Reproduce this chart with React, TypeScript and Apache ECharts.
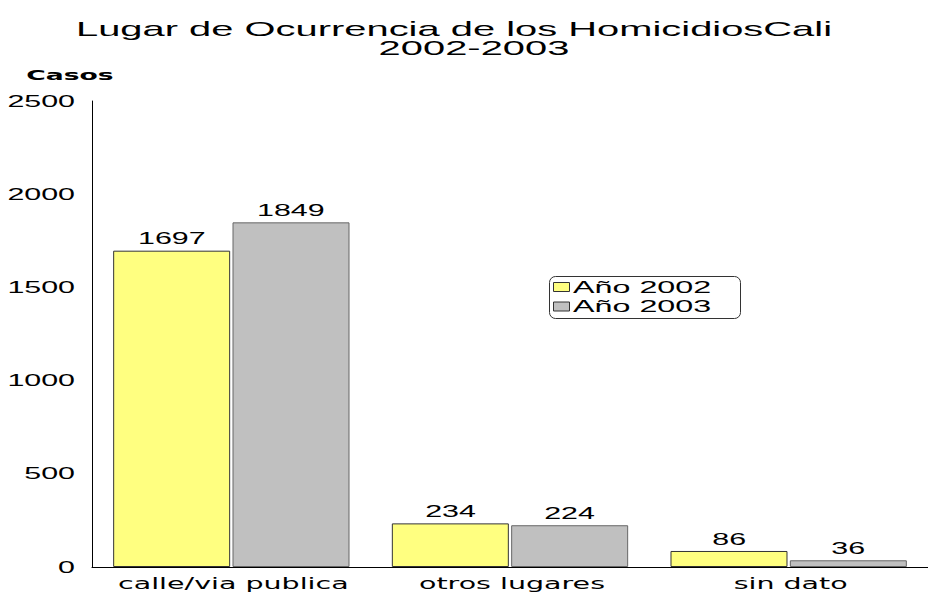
import React, { useEffect, useRef } from "react";
import * as echarts from "echarts";

const titleLines = ["Lugar de Ocurrencia de los HomicidiosCali", "2002-2003"];
const yAxisName = "Casos";
const categories = ["calle/via publica", "otros lugares", "sin dato"];
const seriesNames = ["Año 2002", "Año 2003"];
const year2002 = [1697, 234, 86];
const year2003 = [1849, 224, 36];
const yTicks = [0, 500, 1000, 1500, 2000, 2500];

const COLORS = ["#FFFF80", "#C0C0C0"];
const BORDERS = ["#333333", "#666666"];
const SX = 1.9; // horizontal stretch of all texts, as in the reference

export default function App() {
  const ref = useRef<HTMLDivElement>(null);
  useEffect(() => {
    const chart = echarts.init(ref.current!, null, { renderer: "svg" });
    const seriesData = [year2002, year2003];
    chart.setOption({
      animation: false,
      backgroundColor: "#fff",
      grid: { left: 92, top: 101, bottom: 27, width: 846, containLabel: false },
      xAxis: {
        type: "category",
        data: categories,
        axisLine: { lineStyle: { color: "#000", width: 1 } },
        axisTick: { alignWithLabel: true, length: 6, lineStyle: { color: "#000" } },
        axisLabel: { show: false },
      },
      yAxis: {
        type: "value",
        min: 0,
        max: 2500,
        interval: 500,
        axisLine: { show: true, lineStyle: { color: "#000", width: 1 } },
        axisTick: { show: false },
        splitLine: { show: false },
        axisLabel: { show: false },
      },
      series: seriesNames.map((name, s) => ({
        name,
        type: "bar",
        data: seriesData[s],
        barWidth: 117,
        barGap: "2%",
        itemStyle: { color: COLORS[s], borderColor: BORDERS[s], borderWidth: 1 },
      })),
    });

    const txt = (
      text: string,
      x: number,
      y: number,
      opts: { size: number; family?: string; weight?: string; align?: string }
    ) => ({
      type: "text",
      x,
      y,
      scaleX: SX,
      silent: true,
      style: {
        text,
        fill: "#000",
        fontSize: opts.size,
        fontFamily: opts.family || "Liberation Sans",
        fontWeight: opts.weight || "normal",
        align: opts.align || "center",
        verticalAlign: "middle",
      },
    });

    const graphics: any[] = [];
    // title
    graphics.push(txt(titleLines[0], 454, 29, { size: 21 }));
    graphics.push(txt(titleLines[1], 474, 48, { size: 21 }));
    // y axis name
    graphics.push(txt(yAxisName, 70, 75, { size: 14, family: "DejaVu Sans", weight: "bold" }));
    // y tick labels
    yTicks.forEach((v) => {
      const py = chart.convertToPixel({ yAxisIndex: 0 }, v) as number;
      graphics.push(txt(String(v), 75, py, { size: 16, align: "right" }));
    });
    // category labels
    categories.forEach((c, i) => {
      const px = chart.convertToPixel({ xAxisIndex: 0 }, i) as number;
      graphics.push(txt(c, px + 2, 584, { size: 15, family: "DejaVu Sans" }));
    });
    // value labels
    const off = 117 / 2 + 1;
    seriesData.forEach((arr, s) => {
      arr.forEach((v, i) => {
        const px = (chart.convertToPixel({ xAxisIndex: 0 }, i) as number) + (s === 0 ? -off : off);
        const py = chart.convertToPixel({ yAxisIndex: 0 }, v) as number;
        graphics.push(txt(String(v), px, py - 12, { size: 16 }));
      });
    });
    // legend
    graphics.push({
      type: "rect",
      shape: { x: 549.5, y: 276.5, width: 191, height: 42, r: 6 },
      style: { fill: "#fff", stroke: "#333", lineWidth: 1 },
      silent: true,
    });
    seriesNames.forEach((n, s) => {
      const cy = 287 + s * 19.5;
      graphics.push({
        type: "rect",
        shape: { x: 553.5, y: cy - 4.5, width: 16, height: 9 },
        style: { fill: COLORS[s], stroke: "#333", lineWidth: 1 },
        silent: true,
      });
      graphics.push(txt(n, 573, cy, { size: 17, align: "left" }));
    });

    chart.setOption({ graphic: graphics });
    return () => chart.dispose();
  }, []);
  return <div ref={ref} style={{ width: 928, height: 594, position: "fixed", left: 0, top: 0 }} />;
}
